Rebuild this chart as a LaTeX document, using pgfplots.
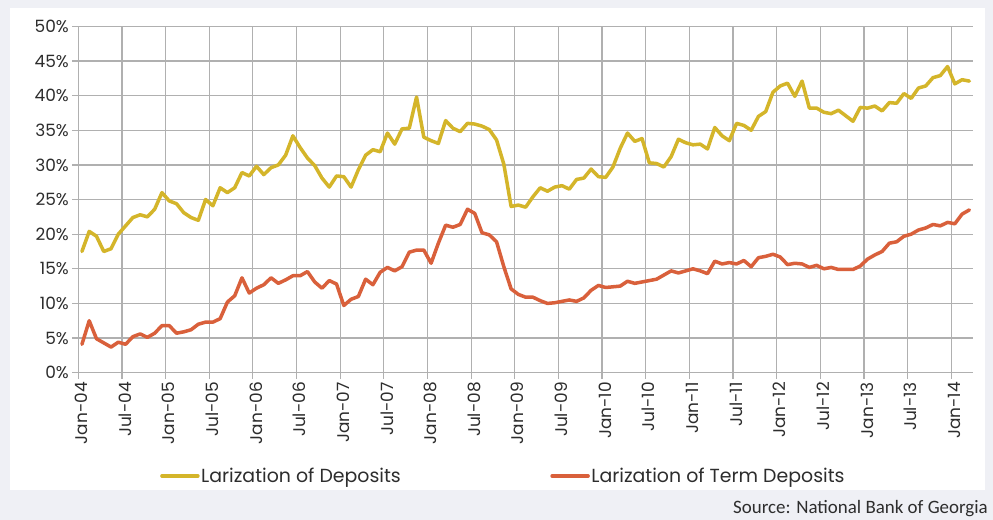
\documentclass[border=0pt]{standalone}
\usepackage{fontspec}
\setmainfont{Poppins}
\newfontfamily\srcfont{Carlito}
\usepackage{pgfplots}
\usepackage{pgfplotstable}
\pgfplotsset{compat=1.18}
\definecolor{bgc}{RGB}{239,240,245}
\definecolor{dep}{RGB}{212,181,42}
\definecolor{term}{RGB}{217,96,59}
\definecolor{gridc}{RGB}{176,176,176}
\definecolor{txt}{RGB}{45,45,45}

\pgfplotstableread{
i dep term
0 17.5 4.1
1 20.4 7.5
2 19.7 4.9
3 17.5 4.3
4 17.9 3.7
5 20.0 4.4
6 21.2 4.1
7 22.4 5.2
8 22.8 5.6
9 22.5 5.1
10 23.6 5.7
11 26.0 6.8
12 24.8 6.8
13 24.4 5.7
14 23.1 5.9
15 22.4 6.2
16 22.0 7.0
17 25.0 7.3
18 24.1 7.3
19 26.7 7.8
20 26.0 10.2
21 26.7 11.1
22 28.9 13.7
23 28.4 11.5
24 29.8 12.2
25 28.6 12.7
26 29.6 13.7
27 30.0 12.9
28 31.4 13.4
29 34.2 14.0
30 32.5 14.0
31 31.0 14.6
32 29.9 13.1
33 28.1 12.2
34 26.8 13.3
35 28.4 12.8
36 28.3 9.7
37 26.8 10.6
38 29.3 11.0
39 31.4 13.5
40 32.2 12.7
41 31.9 14.5
42 34.6 15.2
43 33.0 14.7
44 35.2 15.3
45 35.3 17.4
46 39.8 17.7
47 34.0 17.7
48 33.5 15.8
49 33.1 18.7
50 36.4 21.3
51 35.3 21.0
52 34.8 21.4
53 36.0 23.6
54 35.9 23.0
55 35.6 20.2
56 35.1 19.9
57 33.6 18.9
58 30.1 15.3
59 24.0 12.1
60 24.2 11.3
61 23.9 10.9
62 25.4 10.9
63 26.7 10.4
64 26.2 10.0
65 26.8 10.1
66 27.0 10.3
67 26.5 10.5
68 27.9 10.3
69 28.1 10.8
70 29.4 11.9
71 28.3 12.6
72 28.2 12.3
73 29.7 12.4
74 32.4 12.5
75 34.6 13.2
76 33.4 12.9
77 33.8 13.1
78 30.3 13.3
79 30.2 13.5
80 29.7 14.1
81 31.2 14.7
82 33.7 14.4
83 33.2 14.7
84 32.9 15.0
85 33.0 14.7
86 32.3 14.3
87 35.4 16.1
88 34.2 15.7
89 33.5 15.9
90 36.0 15.7
91 35.7 16.2
92 35.0 15.3
93 37.0 16.6
94 37.7 16.8
95 40.5 17.1
96 41.4 16.7
97 41.8 15.6
98 39.9 15.8
99 42.1 15.7
100 38.2 15.2
101 38.2 15.5
102 37.6 15.0
103 37.4 15.2
104 37.9 14.9
105 37.1 14.9
106 36.3 14.9
107 38.3 15.4
108 38.2 16.4
109 38.5 17.0
110 37.8 17.5
111 39.0 18.7
112 38.9 18.9
113 40.3 19.7
114 39.6 20.0
115 41.1 20.6
116 41.4 20.9
117 42.6 21.4
118 42.9 21.2
119 44.2 21.7
120 41.7 21.5
121 42.3 22.9
122 42.1 23.5
}\data

\begin{document}
\begin{tikzpicture}[x=1bp,y=1bp]
\fill[bgc] (0,0) rectangle (993,520);
\fill[white] (10,30) rectangle (985,512);
\begin{axis}[
  at={(78.3bp,147.3bp)}, anchor=south west,
  scale only axis, width=894.7bp, height=346.3bp,
  xmin=-0.5, xmax=122.5, ymin=0, ymax=50,
  axis x line=bottom, axis y line=left,
  axis line style={-, draw=gridc, line width=1.2bp},
  xmajorgrids, ymajorgrids,
  major grid style={draw=gridc, line width=1.2bp},
  tick style={draw=gridc, line width=1.2bp},
  tick align=outside, major tick length=6bp,
  xtick={-0.5,5.5,...,119.5},
  xticklabels={Jan-04,Jul-04,Jan-05,Jul-05,Jan-06,Jul-06,Jan-07,Jul-07,Jan-08,Jul-08,Jan-09,Jul-09,Jan-10,Jul-10,Jan-11,Jul-11,Jan-12,Jul-12,Jan-13,Jul-13,Jan-14},
  ytick={0,5,...,50},
  yticklabel={\pgfmathprintnumber{\tick}\%},
  /pgf/number format/assume math mode=true,
  ticklabel style={font=\fontsize{17}{17}\selectfont, text=txt},
  xticklabel style={xshift=3bp, rotate=90, anchor=east},
  legend columns=2,
  legend style={draw=none, fill=none, at={(0.0913,-0.298)}, anchor=west,
    inner sep=0pt, font=\fontsize{19}{19}\selectfont, text=txt,
    nodes={inner sep=1.5bp},
    /tikz/every even column/.append style={column sep=148bp}},
  legend image code/.code={\draw[#1, line width=3.5bp, line cap=round] (0bp,0bp) -- (36bp,0bp);},
  every axis plot/.append style={line width=3.5bp, line join=round, line cap=round},
]
\addplot[dep] table[x=i, y=dep] {\data};
\addlegendentry{Larization of Deposits}
\addplot[term] table[x=i, y=term] {\data};
\addlegendentry{Larization of Term Deposits}
\end{axis}
\node[anchor=base east, font=\srcfont\fontsize{19}{19}\selectfont, text=txt, inner sep=0pt] at (988,6) {Source: National Bank of Georgia};
\pgfresetboundingbox
\path (0,0) rectangle (993,520);
\end{tikzpicture}
\end{document}
